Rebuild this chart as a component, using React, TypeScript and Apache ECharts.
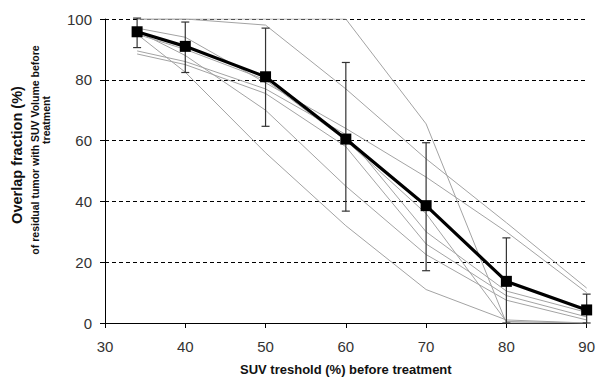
import React, { useEffect, useRef } from "react";
import * as echarts from "echarts";

const thresholds = [34, 40, 50, 60, 70, 80, 90];
const meanOverlap = [95.8, 91, 81, 60.5, 38.6, 13.7, 4.3];
const errLow = [90.6, 82.4, 64.7, 36.8, 17.2, 0, 0];
const errHigh = [100.3, 99, 97, 85.7, 59.3, 28, 9.5];

const patientA = [100, 100, 100, 100, 65.5, 0, 0];
const patientB = [100, 100, 98, 77, 54, 33, 11.5];
const patientC = [97, 94, 79, 64, 48, 30, 10];
const patientD = [95, 82.5, 56, 32, 11, 1, 0];
const patientE = [89.5, 86, 77, 62, 30, 10.5, 3.5];
const patientF = [88.5, 85, 75.5, 58, 26, 9, 2];
const patientG = [96, 88, 70, 45, 22.5, 7.5, 1];
const patientH = [95, 90, 80, 60, 36, 0.5, 0];

const patients = [patientA, patientB, patientC, patientD, patientE, patientF, patientG, patientH];

const xTicks = [30, 40, 50, 60, 70, 80, 90];
const yTicks = [0, 20, 40, 60, 80, 100];

const FONT = "Liberation Sans, Arial, sans-serif";

export default function App() {
  const ref = useRef<HTMLDivElement>(null);
  useEffect(() => {
    if (!ref.current) return;
    const chart = echarts.init(ref.current, null, { renderer: "svg" });
    const pair = (vals: number[]) => thresholds.map((t, i) => [t, vals[i]]);
    const grayLines = patients.map((p, k) => ({
      type: "line" as const,
      name: "patient" + k,
      data: pair(p),
      symbol: "none",
      lineStyle: { color: "#a3a3a3", width: 1 },
      z: 2,
      silent: true,
    }));
    chart.setOption({
      animation: false,
      grid: { left: 105, right: 9, top: 19, bottom: 55 },
      xAxis: {
        type: "value",
        min: xTicks[0],
        max: xTicks[xTicks.length - 1],
        interval: 10,
        axisLine: { lineStyle: { color: "#000", width: 1 } },
        axisTick: { show: true, length: 5, inside: false, lineStyle: { color: "#000" } },
        axisLabel: { color: "#333", fontSize: 15, fontFamily: FONT, margin: 16 },
        splitLine: { show: false },
        name: "SUV treshold (%) before treatment",
        nameLocation: "middle",
        nameGap: 40,
        nameTextStyle: { color: "#111", fontSize: 13, fontWeight: "bold", fontFamily: FONT },
      },
      yAxis: {
        type: "value",
        min: yTicks[0],
        max: yTicks[yTicks.length - 1],
        interval: 20,
        axisLine: { show: true, lineStyle: { color: "#000", width: 1 } },
        axisTick: { show: true, length: 5, lineStyle: { color: "#000" } },
        axisLabel: { color: "#333", fontSize: 15, fontFamily: FONT, margin: 13 },
        splitLine: { show: true, lineStyle: { color: "#000", type: [4, 3], width: 1 } },
      },
      graphic: [
        {
          type: "text",
          x: 17,
          y: 155,
          rotation: Math.PI / 2,
          style: {
            text: "Overlap fraction (%)",
            fontSize: 14.5,
            fontWeight: "bold",
            fontFamily: FONT,
            fill: "#111",
            align: "center",
            verticalAlign: "middle",
          },
        },
        {
          type: "text",
          x: 35,
          y: 150,
          rotation: Math.PI / 2,
          style: {
            text: "of residual tumor with SUV Volume before",
            fontSize: 10.5,
            fontWeight: "bold",
            fontFamily: FONT,
            fill: "#111",
            align: "center",
            verticalAlign: "middle",
          },
        },
        {
          type: "text",
          x: 46,
          y: 120,
          rotation: Math.PI / 2,
          style: {
            text: "treatment",
            fontSize: 10.5,
            fontWeight: "bold",
            fontFamily: FONT,
            fill: "#111",
            align: "center",
            verticalAlign: "middle",
          },
        },
      ],
      series: [
        ...grayLines,
        {
          type: "custom",
          name: "error",
          z: 3,
          clip: false,
          data: thresholds.map((t, i) => [t, errLow[i], errHigh[i]]),
          renderItem: (params: any, api: any) => {
            const x = api.value(0);
            const lo = api.coord([x, api.value(1)]);
            const hi = api.coord([x, api.value(2)]);
            const w = 4;
            const style = { stroke: "#333", lineWidth: 1.2 };
            return {
              type: "group",
              children: [
                { type: "line", shape: { x1: lo[0], y1: lo[1], x2: hi[0], y2: hi[1] }, style },
                { type: "line", shape: { x1: hi[0] - w, y1: hi[1], x2: hi[0] + w, y2: hi[1] }, style },
                { type: "line", shape: { x1: lo[0] - w, y1: lo[1], x2: lo[0] + w, y2: lo[1] }, style },
              ],
            };
          },
        },
        {
          type: "line",
          name: "mean",
          data: pair(meanOverlap),
          symbol: "rect",
          symbolSize: 11,
          itemStyle: { color: "#000" },
          lineStyle: { color: "#000", width: 3.2 },
          z: 5,
        },
      ],
    });
    return () => chart.dispose();
  }, []);
  return (
    <div
      ref={ref}
      style={{ position: "absolute", left: 0, top: 0, width: 598, height: 381, background: "#fff" }}
    />
  );
}
